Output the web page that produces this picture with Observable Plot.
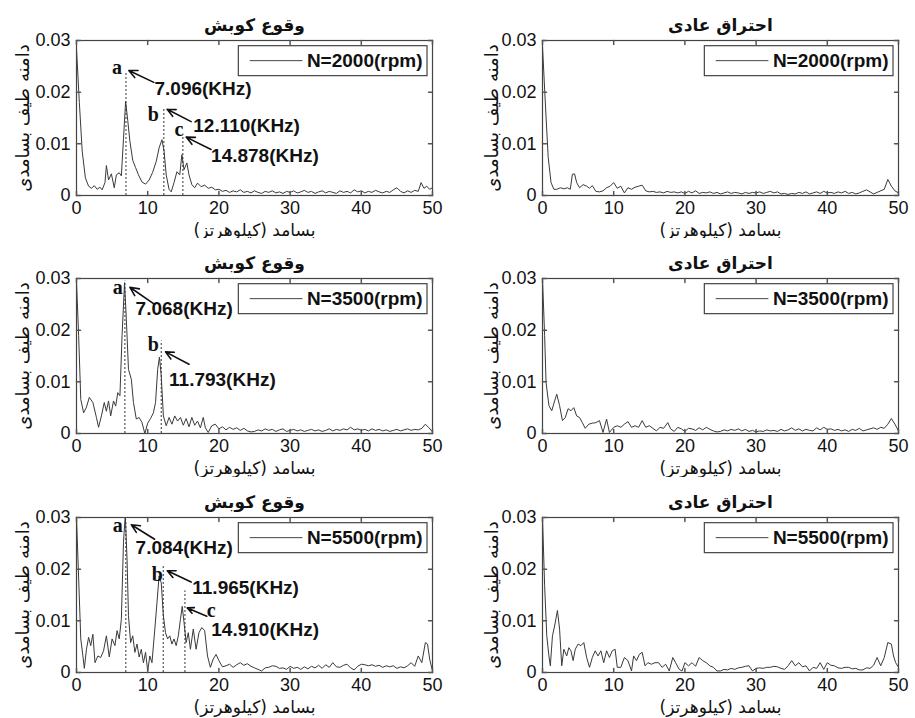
<!DOCTYPE html>
<html><head><meta charset="utf-8">
<script src="https://cdn.jsdelivr.net/npm/d3@7"></script>
<script src="https://cdn.jsdelivr.net/npm/@observablehq/plot@0.6"></script>
<style>
body{margin:0;background:#fff;}
#wrap{position:relative;width:915px;height:718px;background:#fff;}
#wrap > svg{position:absolute;margin:0;}
</style></head><body><div id="wrap"></div>
<script>
// ---- text ----
const titleKnock = "وقوع کوبش";
const titleNormal = "احتراق عادی";
const yLabel = "\u200Fدامنه طیف بسامدی\u200F";
const xLabel = "\u200Fبسامد (کیلوهرتز)\u200F";
const xTicks = [0, 10, 20, 30, 40, 50];
const yTicks = [0, 0.01, 0.02, 0.03];
const rpms = ["2000", "3500", "5500"];

// ---- spectra: [frequency kHz, amplitude] ----
const knock2000 = [[0,0.0284],[0.4,0.018],[0.8,0.0086],[1.25,0.0034],[1.7,0.0018],[2.1,0.0014],[2.5,0.0019],[2.9,0.0012],[3.3,0.0016],[3.6,0.0011],[4.0,0.0025],[4.2,0.0058],[4.5,0.003],[4.9,0.0042],[5.3,0.0015],[5.6,0.004],[6.0,0.0044],[6.3,0.0038],[6.6,0.011],[6.9,0.0182],[7.2,0.0145],[7.5,0.0105],[7.9,0.0068],[8.3,0.0054],[8.7,0.004],[9.2,0.0026],[9.7,0.0022],[10.2,0.003],[10.7,0.0045],[11.2,0.0066],[11.6,0.0092],[12.0,0.0108],[12.3,0.0086],[12.6,0.004],[13.0,0.0012],[13.3,0.0007],[13.7,0.0025],[14.1,0.0046],[14.5,0.004],[14.8,0.0079],[15.1,0.005],[15.5,0.0063],[15.8,0.004],[16.2,0.0021],[16.6,0.0015],[17.0,0.0024],[17.5,0.0017],[18.0,0.002],[18.5,0.0014],[19.0,0.0016],[19.5,0.0011],[20,0.0012],[20.5,0.0008],[21,0.001],[21.5,0.0006],[22,0.0009],[22.5,0.0007],[23,0.0011],[23.5,0.0006],[24,0.0008],[24.5,0.0005],[25,0.0009],[25.5,0.0006],[26,0.0004],[26.5,0.0008],[27,0.0006],[27.5,0.0009],[28,0.0005],[28.5,0.0007],[29,0.0004],[29.5,0.0008],[30,0.0006],[30.5,0.0009],[31,0.0005],[31.5,0.0007],[32,0.001],[32.5,0.0006],[33,0.0008],[33.5,0.0004],[34,0.0007],[34.5,0.0009],[35,0.0005],[35.5,0.0008],[36,0.0006],[36.5,0.0004],[37,0.0009],[37.5,0.0006],[38,0.0008],[38.5,0.0005],[39,0.0011],[39.5,0.0007],[40,0.0009],[40.5,0.0005],[41,0.0008],[41.5,0.0006],[42,0.001],[42.5,0.0007],[43,0.0005],[43.5,0.0008],[44,0.0006],[44.5,0.0011],[45,0.0015],[45.5,0.0008],[46,0.0005],[46.5,0.0009],[47,0.0006],[47.5,0.001],[48,0.0008],[48.4,0.0025],[48.8,0.0014],[49.2,0.0018],[49.6,0.0012],[50,0.0015]];

const normal2000 = [[0,0.0289],[0.25,0.022],[0.5,0.0152],[0.8,0.0074],[1.2,0.0025],[1.6,0.0012],[2.0,0.0012],[2.5,0.0015],[3.0,0.0013],[3.5,0.0015],[3.9,0.0012],[4.2,0.0041],[4.5,0.0042],[4.8,0.0025],[5.2,0.0015],[5.7,0.0021],[6.2,0.0018],[6.6,0.0014],[7.0,0.0019],[7.5,0.0008],[8.0,0.0007],[8.5,0.0009],[9.0,0.0015],[9.5,0.0018],[10.0,0.0025],[10.5,0.0014],[11.0,0.0018],[11.5,0.0005],[12.0,0.0015],[12.5,0.0012],[13.0,0.0016],[13.5,0.0018],[14.0,0.002],[14.5,0.0009],[15.0,0.0007],[15.5,0.0008],[16,0.0006],[16.5,0.0007],[17,0.0005],[17.5,0.0008],[18,0.0006],[18.5,0.0007],[19,0.0005],[19.5,0.0007],[20,0.0004],[20.5,0.0008],[21,0.0005],[21.5,0.0009],[22,0.0004],[22.5,0.0006],[23,0.0005],[23.5,0.0007],[24,0.0004],[24.5,0.0006],[25,0.0003],[25.5,0.0005],[26,0.0007],[26.5,0.0004],[27,0.0006],[27.5,0.0005],[28,0.0003],[28.5,0.0006],[29,0.0004],[29.5,0.0006],[30,0.0005],[30.5,0.0007],[31,0.0004],[31.5,0.0006],[32,0.0008],[32.5,0.0005],[33,0.0007],[33.5,0.0003],[34,0.0004],[34.5,0.0002],[35,0.0004],[35.5,0.0003],[36,0.0006],[36.5,0.0004],[37,0.0007],[37.5,0.0003],[38,0.0005],[38.5,0.0007],[39,0.0004],[39.5,0.0008],[40,0.0005],[40.5,0.0006],[41,0.0004],[41.5,0.0007],[42,0.0005],[42.5,0.0008],[43,0.0004],[43.5,0.0006],[44,0.0003],[44.5,0.0005],[45,0.0008],[45.5,0.0011],[46,0.0007],[46.5,0.0003],[47,0.0006],[47.5,0.0009],[48,0.0012],[48.5,0.0031],[49,0.0018],[49.5,0.0009],[50,0.0005]];

const knock3500 = [[0,0.0294],[0.3,0.019],[0.6,0.0066],[1.0,0.004],[1.4,0.0051],[1.8,0.007],[2.3,0.006],[2.8,0.0031],[3.1,0.0012],[3.5,0.0034],[3.9,0.006],[4.2,0.0043],[4.5,0.0063],[4.8,0.0034],[5.2,0.0063],[5.5,0.0053],[5.8,0.0079],[6.1,0.0073],[6.4,0.019],[6.75,0.0292],[7.0,0.0221],[7.3,0.0124],[7.7,0.0105],[8.0,0.006],[8.4,0.0028],[8.8,0.0031],[9.2,0.0021],[9.6,0.0],[10.0,0.002],[10.4,0.0029],[10.8,0.004],[11.1,0.006],[11.4,0.0124],[11.65,0.0148],[11.9,0.0112],[12.2,0.0034],[12.6,0.0015],[13.0,0.0031],[13.4,0.0018],[13.8,0.0034],[14.2,0.0024],[14.6,0.0031],[15.0,0.0016],[15.4,0.0029],[15.8,0.0013],[16.2,0.0031],[16.6,0.0016],[17.0,0.0024],[17.4,0.0011],[17.8,0.0031],[18.1,0.0011],[18.5,0.0002],[19.0,0.0015],[19.5,0.0018],[20,0.0009],[20.5,0.0013],[21,0.0007],[21.5,0.0012],[22,0.0008],[22.5,0.0011],[23,0.0006],[23.5,0.001],[24,0.0005],[24.5,0.0003],[25,0.0004],[25.5,0.0007],[26,0.0005],[26.5,0.0009],[27,0.0006],[27.5,0.0008],[28,0.0004],[28.5,0.0007],[29,0.0009],[29.5,0.0004],[30,0.0006],[30.5,0.0008],[31,0.0005],[31.5,0.0007],[32,0.0004],[32.5,0.0006],[33,0.0008],[33.5,0.0005],[34,0.0007],[34.5,0.0004],[35,0.0006],[35.5,0.0009],[36,0.0005],[36.5,0.0008],[37,0.0006],[37.5,0.0009],[38,0.0007],[38.5,0.0012],[39,0.0007],[39.5,0.0009],[40,0.0006],[40.5,0.0008],[41,0.0005],[41.5,0.0009],[42,0.0006],[42.5,0.0008],[43,0.0005],[43.5,0.0007],[44,0.0004],[44.5,0.0006],[45,0.0008],[45.5,0.0005],[46,0.0007],[46.5,0.0009],[47,0.0006],[47.5,0.0008],[48,0.0007],[48.5,0.001],[49,0.0018],[49.5,0.0011],[50,0.0003]];

const normal3500 = [[0,0.0299],[0.3,0.019],[0.5,0.0099],[0.9,0.0054],[1.3,0.0044],[1.7,0.0063],[2.0,0.0076],[2.4,0.0054],[2.8,0.0025],[3.2,0.0031],[3.6,0.0048],[4.0,0.0044],[4.4,0.005],[4.8,0.0034],[5.2,0.0031],[5.6,0.0021],[6.0,0.001],[6.5,0.0018],[7.0,0.002],[7.5,0.0021],[8.0,0.0025],[8.5,0.0002],[9.0,0.0028],[9.4,0.0002],[10.0,0.0012],[10.5,0.0015],[11.0,0.0012],[11.5,0.0018],[12.0,0.0023],[12.5,0.0012],[13.0,0.0015],[13.5,0.0012],[14.0,0.0025],[14.5,0.0012],[15.0,0.0015],[15.5,0.001],[16.0,0.0005],[16.5,0.0012],[17.0,0.001],[17.6,0.0021],[18.0,0.0009],[18.5,0.0004],[19.0,0.0012],[19.5,0.0009],[20,0.0004],[20.5,0.001],[21,0.0009],[21.5,0.0006],[22,0.0011],[22.5,0.0007],[23,0.0012],[23.5,0.0008],[24,0.0005],[24.5,0.0003],[25,0.0004],[25.5,0.0007],[26,0.0005],[26.5,0.0008],[27,0.0006],[27.5,0.0009],[28,0.0005],[28.5,0.0008],[29,0.0004],[29.5,0.0006],[30,0.0003],[30.5,0.0005],[31,0.0004],[31.5,0.0007],[32,0.0005],[32.5,0.0006],[33,0.0004],[33.5,0.0008],[34,0.0005],[34.5,0.0007],[35,0.0011],[35.5,0.0006],[36,0.0009],[36.5,0.0005],[37,0.0008],[37.5,0.0006],[38,0.0005],[38.5,0.0011],[39,0.0007],[39.5,0.0012],[40,0.0008],[40.5,0.0009],[41,0.0006],[41.5,0.0008],[42,0.0005],[42.5,0.0007],[43,0.0004],[43.5,0.0008],[44,0.0006],[44.5,0.001],[45,0.0005],[45.5,0.0007],[46,0.0009],[46.5,0.0011],[47,0.0008],[47.5,0.0012],[48,0.001],[48.5,0.0018],[49,0.0029],[49.5,0.0018],[50,0.0005]];

const knock5500 = [[0,0.03],[0.3,0.0183],[0.6,0.0065],[0.9,0.0032],[1.1,0.0008],[1.4,0.0045],[1.7,0.0068],[2.0,0.0052],[2.3,0.0074],[2.6,0.0019],[3.0,0.0032],[3.4,0.0029],[3.8,0.0042],[4.2,0.0071],[4.6,0.003],[5.0,0.0065],[5.4,0.0052],[5.7,0.0081],[6.0,0.0065],[6.3,0.0103],[6.6,0.0252],[6.85,0.0305],[7.1,0.0219],[7.3,0.011],[7.6,0.0058],[7.9,0.0071],[8.2,0.0039],[8.5,0.0055],[8.8,0.003],[9.1,0.0045],[9.4,0.0019],[9.7,0.0039],[10.0,0.0003],[10.3,0.0032],[10.6,0.0019],[11.0,0.0084],[11.3,0.0135],[11.6,0.0187],[11.9,0.0174],[12.2,0.011],[12.5,0.0077],[12.8,0.0065],[13.1,0.0071],[13.4,0.0055],[13.7,0.0065],[14.0,0.0052],[14.3,0.0071],[14.6,0.0103],[14.85,0.0128],[15.1,0.0097],[15.4,0.0058],[15.7,0.0077],[16.0,0.0045],[16.4,0.0084],[16.8,0.0045],[17.2,0.0077],[17.6,0.0087],[18.0,0.0081],[18.4,0.0032],[18.8,0.001],[19.2,0.0026],[19.6,0.0035],[20,0.0023],[20.5,0.0011],[21,0.0013],[21.5,0.0016],[22,0.001],[22.5,0.0015],[23,0.0019],[23.5,0.0014],[24,0.0017],[24.5,0.0012],[25,0.0009],[25.5,0.0006],[26,0.0003],[26.5,0.0009],[27,0.001],[27.5,0.0013],[28,0.0012],[28.5,0.0008],[29,0.0009],[29.5,0.0006],[30,0.0012],[30.5,0.0008],[31,0.001],[31.5,0.0006],[32,0.0011],[32.5,0.0007],[33,0.0012],[33.5,0.0009],[34,0.0014],[34.5,0.0008],[35,0.0015],[35.5,0.001],[36,0.0019],[36.5,0.0011],[37,0.001],[37.5,0.0014],[38,0.0016],[38.5,0.0009],[39,0.0005],[39.5,0.0012],[40,0.0016],[40.5,0.0015],[41,0.0013],[41.5,0.0015],[42,0.0012],[42.5,0.0014],[43,0.001],[43.5,0.0013],[44,0.0011],[44.5,0.0013],[45,0.0008],[45.5,0.0011],[46,0.0009],[46.5,0.0013],[47,0.0019],[47.5,0.0012],[48,0.0032],[48.5,0.0019],[49,0.0058],[49.3,0.0055],[49.6,0.0026],[50,0.0003]];

const normal5500 = [[0,0.03],[0.3,0.0168],[0.6,0.0071],[0.9,0.0032],[1.1,0.0013],[1.4,0.0071],[1.7,0.009],[2.1,0.012],[2.4,0.0084],[2.7,0.0013],[3.0,0.0045],[3.4,0.0032],[3.7,0.0048],[4.0,0.0042],[4.3,0.0023],[4.6,0.0045],[5.0,0.0055],[5.4,0.0052],[5.8,0.0058],[6.2,0.0029],[6.6,0.001],[7.0,0.0029],[7.4,0.0042],[7.8,0.0032],[8.2,0.0042],[8.6,0.0019],[9.0,0.0042],[9.4,0.0029],[9.8,0.0042],[10.2,0.0045],[10.5,0.001],[11.0,0.001],[11.5,0.0029],[12.0,0.0023],[12.5,0.0003],[12.8,0.0032],[13.2,0.0023],[13.6,0.0035],[14.0,0.0039],[14.4,0.0013],[14.8,0.0019],[15.3,0.0016],[15.8,0.0019],[16.3,0.0019],[16.8,0.001],[17.3,0.0016],[17.8,0.0003],[18.3,0.0029],[18.7,0.0019],[19.2,0.0006],[19.6,0.0003],[20,0.0019],[20.5,0.0013],[21,0.0019],[21.5,0.0012],[22,0.0029],[22.5,0.0023],[23,0.0019],[23.5,0.0013],[24,0.001],[24.5,0.0003],[25,0.0003],[25.5,0.0006],[26,0.0005],[26.5,0.0008],[27,0.0006],[27.5,0.0009],[28,0.001],[28.5,0.0012],[29,0.0013],[29.5,0.0003],[30,0.0008],[30.5,0.0009],[31,0.0008],[31.5,0.001],[32,0.001],[32.5,0.0012],[33,0.0011],[33.5,0.0008],[34,0.0006],[34.5,0.0013],[35,0.0023],[35.5,0.0013],[36,0.0019],[36.5,0.0011],[37,0.0013],[37.5,0.0003],[38,0.001],[38.5,0.0008],[39,0.0019],[39.5,0.0006],[40,0.0019],[40.5,0.0014],[41,0.0013],[41.5,0.0009],[42,0.0008],[42.5,0.001],[43,0.001],[43.5,0.0007],[44,0.0008],[44.5,0.0005],[45,0.0005],[45.5,0.0009],[46,0.0008],[46.5,0.0014],[47,0.0029],[47.5,0.0013],[48,0.0029],[48.5,0.0058],[49,0.0055],[49.3,0.0032],[49.6,0.0019],[50,0.001]];

// ---- peak annotations (data units) ----
const notes2000 = [
  {label:"a", f:6.95, top:0.0240, lx:5.7, ly:0.0248, text:"7.096(KHz)", tx:10.95, ty:0.0206, ax:10.86, ay:0.0219, hx:7.35, hy:0.0242},
  {label:"b", f:12.27, top:0.0170, lx:10.8, ly:0.0157, text:"12.110(KHz)", tx:16.4, ty:0.0135, ax:16.1, ay:0.0143, hx:12.73, hy:0.0167},
  {label:"c", f:14.94, top:0.0119, lx:14.4, ly:0.0128, text:"14.878(KHz)", tx:18.9, ty:0.0076, ax:18.9, ay:0.0089, hx:15.4, hy:0.0113}
];
const notes3500 = [
  {label:"a", f:6.8, top:0.0295, lx:5.8, ly:0.0283, text:"7.068(KHz)", tx:8.3, ty:0.0242, ax:10.97, ay:0.025, hx:7.5, hy:0.0283},
  {label:"b", f:11.9, top:0.0179, lx:10.78, ly:0.0173, text:"11.793(KHz)", tx:13.0, ty:0.0104, ax:15.8, ay:0.0134, hx:12.5, hy:0.0158}
];
const notes5500 = [
  {label:"a", f:6.93, top:0.0295, lx:5.8, ly:0.0284, text:"7.084(KHz)", tx:8.3, ty:0.0242, ax:10.97, ay:0.0258, hx:7.7, hy:0.0286},
  {label:"b", f:12.18, top:0.0206, lx:11.34, ly:0.019, text:"11.965(KHz)", tx:16.26, ty:0.0163, ax:16.1, ay:0.0175, hx:12.75, hy:0.0197},
  {label:"c", f:15.23, top:0.0158, lx:18.9, ly:0.0120, text:"14.910(KHz)", tx:18.93, ty:0.0082, ax:18.3, ay:0.0109, hx:15.56, hy:0.0125}
];

// legend box in data units
const legendBox = {x1: 22.8, x2: 49.3, y1: 0.0231, y2: 0.0289, lineX1: 24.4, lineX2: 31.8, lineY: 0.0261, textX: 48.6};

const panels = [
  {title: titleKnock, series: knock2000, rpm: rpms[0], notes: notes2000, col: 0, row: 0},
  {title: titleNormal, series: normal2000, rpm: rpms[0], notes: [], col: 1, row: 0},
  {title: titleKnock, series: knock3500, rpm: rpms[1], notes: notes3500, col: 0, row: 1},
  {title: titleNormal, series: normal3500, rpm: rpms[1], notes: [], col: 1, row: 1},
  {title: titleKnock, series: knock5500, rpm: rpms[2], notes: notes5500, col: 0, row: 2},
  {title: titleNormal, series: normal5500, rpm: rpms[2], notes: [], col: 1, row: 2}
];

const tickShape = {draw(ctx, l) { ctx.moveTo(0, 0); ctx.lineTo(0, -l); }};
const arabicFont = "DejaVu Sans, sans-serif";
const latinFont = "Liberation Sans, Arial, sans-serif";
const rowTops = [0, 238, 477];
const colLefts = [0, 457];

const wrap = document.getElementById("wrap");
for (const p of panels) {
  const lb = legendBox;
  const chart = Plot.plot({
    width: 458, height: 239,
    marginTop: 40, marginBottom: 44,
    marginLeft: p.col ? 85 : 76, marginRight: p.col ? 17 : 26,
    x: {domain: [0, 50], ticks: xTicks, tickSize: 0, tickPadding: 6, label: null},
    y: {domain: [0, 0.03], ticks: yTicks, tickSize: 0, tickPadding: 6, label: null,
        tickFormat: d => d === 0 ? "0" : d.toFixed(2)},
    style: {fontFamily: latinFont, fontSize: "18px", color: "#111", background: "#fff", overflow: "visible"},
    marks: [
      Plot.line(p.series, {x: d => d[0], y: d => d[1], stroke: "#3a3a3a", strokeWidth: 1, clip: true}),
      Plot.ruleX(p.notes, {x: "f", y1: 0, y2: "top", stroke: "#333", strokeWidth: 1, strokeDasharray: "2,2"}),
      Plot.arrow(p.notes, {x1: "ax", y1: "ay", x2: "hx", y2: "hy", stroke: "#111", strokeWidth: 1.6, headLength: 9, headAngle: 50}),
      Plot.text(p.notes, {x: "lx", y: "ly", text: "label", fontFamily: "Liberation Serif, Times New Roman, serif", fontWeight: "bold", fontSize: 20, fill: "#111"}),
      Plot.text(p.notes, {x: "tx", y: "ty", text: "text", textAnchor: "start", fontFamily: latinFont, fontWeight: "bold", fontSize: 19, fill: "#111"}),
      Plot.rect([lb], {x1: "x1", x2: "x2", y1: "y1", y2: "y2", fill: "#fff", stroke: "#444", strokeWidth: 1.2}),
      Plot.ruleY([lb], {y: "lineY", x1: "lineX1", x2: "lineX2", stroke: "#444", strokeWidth: 1}),
      Plot.text([lb], {x: "textX", y: "lineY", text: () => `N=${p.rpm}(rpm)`, textAnchor: "end", fontFamily: latinFont, fontWeight: "bold", fontSize: 19, fill: "#111"}),
      Plot.frame({stroke: "#444", strokeWidth: 1.2}),
      Plot.vector(xTicks, {x: d => d, frameAnchor: "bottom", length: 4, rotate: 0, anchor: "start", shape: tickShape, stroke: "#555"}),
      Plot.vector(xTicks, {x: d => d, frameAnchor: "top", length: 4, rotate: 180, anchor: "start", shape: tickShape, stroke: "#555"}),
      Plot.vector(yTicks, {y: d => d, frameAnchor: "left", length: 4, rotate: 90, anchor: "start", shape: tickShape, stroke: "#555"}),
      Plot.vector(yTicks, {y: d => d, frameAnchor: "right", length: 4, rotate: -90, anchor: "start", shape: tickShape, stroke: "#555"}),
      Plot.text([p.title], {text: d => d, frameAnchor: "top", dy: -15, textAnchor: "middle", lineAnchor: "middle", fontFamily: arabicFont, fontWeight: "bold", fontSize: 17, fill: "#111"}),
      Plot.text([yLabel], {text: d => d, frameAnchor: "left", dx: p.col ? -50 : -53, rotate: -90, textAnchor: "middle", lineAnchor: "middle", fontFamily: arabicFont, fontSize: 18, fill: "#111"}),
      Plot.text([xLabel], {text: d => d, frameAnchor: "bottom", dy: 35, textAnchor: "middle", lineAnchor: "middle", fontFamily: arabicFont, fontSize: 17, fill: "#111"})
    ]
  });
  chart.style.left = colLefts[p.col] + "px";
  chart.style.top = rowTops[p.row] + "px";
  wrap.appendChild(chart);
}
</script>
</body></html>
